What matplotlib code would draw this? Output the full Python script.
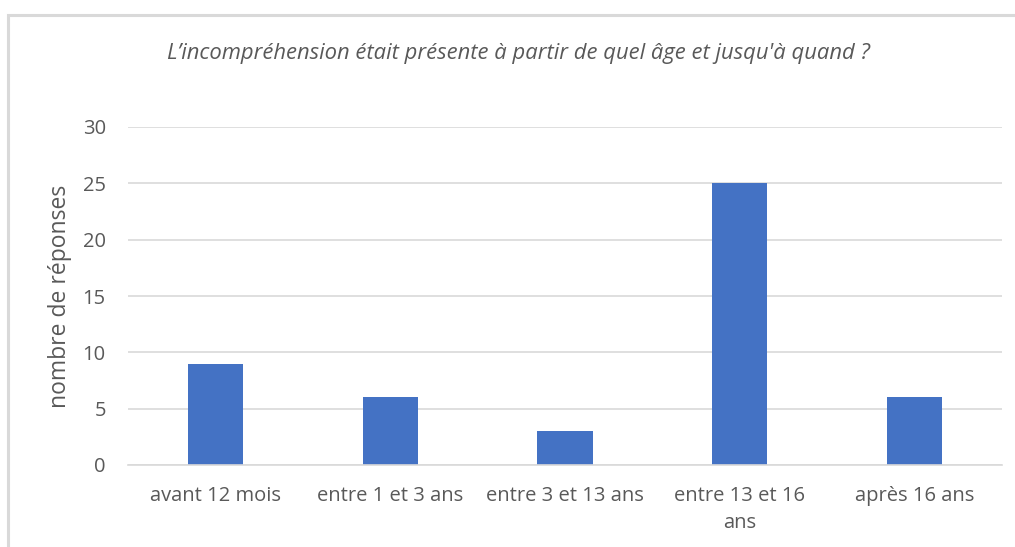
import matplotlib
matplotlib.use("Agg")
import matplotlib.pyplot as plt
from matplotlib.patches import Rectangle

categories = ["avant 12 mois", "entre 1 et 3 ans", "entre 3 et 13 ans", "entre 13 et 16\nans", "après 16 ans"]
values = [9, 6, 3, 25, 6]
y_ticks = [0, 5, 10, 15, 20, 25, 30]

title = "L’incompréhension était présente à partir de quel âge et jusqu'à quand ?"
y_label = "nombre de réponses"

plt.rcParams["font.family"] = ["Open Sans", "DejaVu Sans"]
text_color = "#595959"
grid_color = "#D9D9D9"
bar_color = "#4472C4"

W, H = 1015, 547
fig = plt.figure(figsize=(W / 100, H / 100), dpi=100)

# chart frame (light grey border)
fig.patches.append(Rectangle((8 / W, -0.1), 1.2, (H - 15) / H + 0.1, transform=fig.transFigure,
                             fill=False, edgecolor=grid_color, linewidth=2.2))

left, right = 128, 1002
top, bottom = 127, 465
ax = fig.add_axes([left / W, 1 - bottom / H, (right - left) / W, (bottom - top) / H])

x = range(len(categories))
ax.bar(x, values, width=0.315, color=bar_color, zorder=3)
ax.set_xlim(-0.5, len(categories) - 0.5)
ax.set_ylim(0, 30)
ax.set_yticks(y_ticks)
ax.set_xticks(list(x))
ax.set_xticklabels(categories, fontsize=14.5, color=text_color, linespacing=1.45)
ax.tick_params(axis="y", labelsize=14.5, labelcolor=text_color, length=0, pad=16)
ax.tick_params(axis="x", length=0, pad=15)
ax.yaxis.grid(True, color=grid_color, linewidth=1.2, zorder=0)
for s in ["top", "right", "left"]:
    ax.spines[s].set_visible(False)
ax.spines["bottom"].set_color(grid_color)
ax.spines["bottom"].set_linewidth(1.2)
ax.spines["bottom"].set_zorder(4)

ax.set_ylabel(y_label, fontsize=16.5, color=text_color, labelpad=8)
fig.text(518 / W, 1 - 53 / H, title, ha="center", va="center", fontsize=15.8,
         style="italic", color=text_color)

fig.savefig("out.png", dpi=100, facecolor="white")
